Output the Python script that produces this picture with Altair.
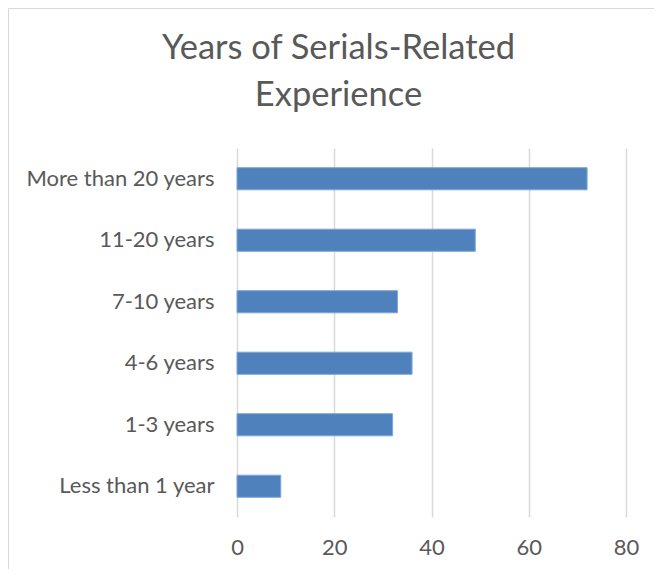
import altair as alt
import pandas as pd

categories = ["More than 20 years", "11-20 years", "7-10 years", "4-6 years", "1-3 years", "Less than 1 year"]
values = [72, 49, 33, 36, 32, 9]
x_ticks = [0, 20, 40, 60, 80]
title_lines = ["Years of Serials-Related", "Experience"]

df = pd.DataFrame({"category": categories, "value": values})

FONT = "Lato"
GREY = "#595959"

frame = alt.Chart(alt.Data(values=[{"k": 1}])).mark_rect(
    fill="transparent", stroke="#d9d9d9", strokeWidth=1
).encode(
    x=alt.value(-228.5), x2=alt.value(900), y=alt.value(-139.5), y2=alt.value(900)
)

bars = alt.Chart(df).mark_bar(
    color="#4f81bd", stroke="#7ea6d8", strokeWidth=1
).encode(
    x=alt.X("value:Q",
            scale=alt.Scale(domain=[0, 80], nice=False),
            axis=alt.Axis(values=x_ticks, title=None, domain=False, ticks=False,
                          grid=True, gridColor="#d9d9d9", gridWidth=1.5,
                          labelFont=FONT, labelFontSize=22, labelColor=GREY,
                          labelPadding=20, labelFlush=False)),
    y=alt.Y("category:N", sort=categories,
            scale=alt.Scale(paddingInner=0.64, paddingOuter=0.32),
            axis=alt.Axis(title=None, domain=False, ticks=False, grid=False,
                          labelFont=FONT, labelFontSize=22, labelColor=GREY,
                          labelPadding=23, labelLimit=300)),
)

chart = alt.layer(frame, bars).properties(
    width=389,
    height=369,
    padding={"left": 229, "top": 140, "right": 28, "bottom": 52},
    autosize=alt.AutoSizeParams(type="none"),
    title=alt.TitleParams(
        text=title_lines, font=FONT, fontSize=34.5, fontWeight="normal",
        color=GREY, lineHeight=47, anchor="middle", dx=-93, offset=0, dy=105,
    ),
).configure_view(stroke=None)

chart.save("out.html", embed_options={"renderer": "svg", "actions": False})
